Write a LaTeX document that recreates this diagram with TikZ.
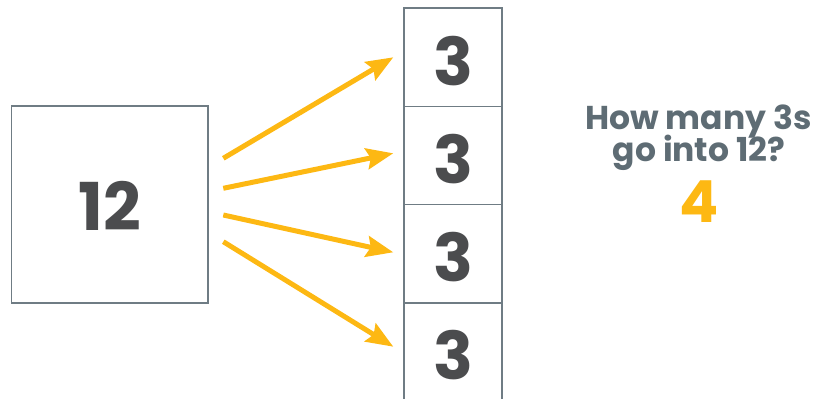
\documentclass[tikz,border=0pt]{standalone}
\usepackage{fontspec}
\setmainfont{Poppins}[BoldFont={Poppins Bold}]
\usetikzlibrary{arrows.meta}
\definecolor{arrowc}{HTML}{FDB813}
\definecolor{numc}{HTML}{4B4C4E}
\definecolor{qc}{HTML}{5E6C74}
\definecolor{boxc}{HTML}{6F7C84}
\tikzset{
  sqbox/.style={draw=boxc, line width=1.2pt, fill=white},
  bignum/.style={font=\fontsize{66}{66}\selectfont\bfseries, text=numc, anchor=base, inner sep=0pt, text depth=0pt, text height=48pt},
  qtext/.style={font=\fontsize{33}{33}\selectfont\bfseries, text=qc, anchor=base, inner sep=0pt},
  ans/.style={font=\fontsize{58}{58}\selectfont\bfseries, text=arrowc, anchor=base, inner sep=0pt},
  arr/.style={draw=arrowc, line width=5pt, -{Stealth[length=27pt, width=21pt, inset=4pt]}}
}
\begin{document}
\begin{tikzpicture}[x=1pt,y=-1pt]
\useasboundingbox (0,0) rectangle (815,399);
% left box
\draw[sqbox] (11.5,106) rectangle (208,303);
\node[bignum] (twelve) at (110,230.5) {12};
% right column
\draw[sqbox] (404,8) rectangle (502,106.5);
\draw[sqbox] (404,106.5) rectangle (502,204.5);
\draw[sqbox] (404,204.5) rectangle (502,303);
\draw[sqbox] (404,303) rectangle (502,402);
\node[bignum] (t1) at (453,85) {3};
\node[bignum] (t2) at (453,183.3) {3};
\node[bignum] (t3) at (453,281) {3};
\node[bignum] (t4) at (453,379.5) {3};
% arrows
\coordinate (s1) at (223.3,158.3);
\coordinate (e1) at (393.3,57.3);
\coordinate (s2) at (223.3,188.3);
\coordinate (e2) at (393.3,153.3);
\coordinate (s3) at (223.3,215);
\coordinate (e3) at (393.3,252.3);
\coordinate (s4) at (223.3,241.7);
\coordinate (e4) at (393.3,346.7);
\draw[arr] (s1) -- (e1);
\draw[arr] (s2) -- (e2);
\draw[arr] (s3) -- (e3);
\draw[arr] (s4) -- (e4);
% question
\node[qtext] (q1) at (698.5,129.3) {How many 3s};
\node[qtext] (q2) at (699,161.7) {go into 12?};
\node[ans] (a) at (699,222.7) {4};
\end{tikzpicture}
\end{document}
